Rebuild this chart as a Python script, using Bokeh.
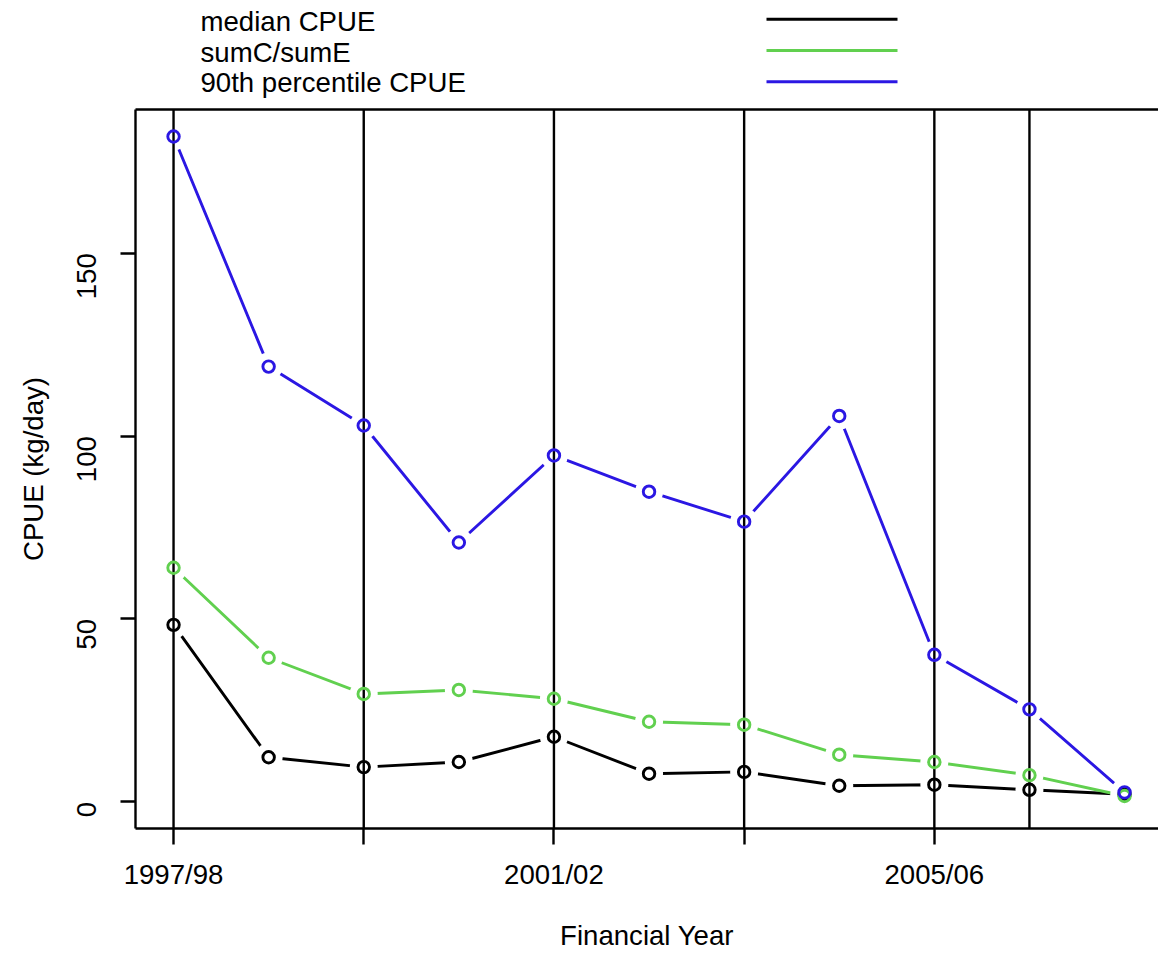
import math
from bokeh.plotting import figure
from bokeh.models import Range1d, FixedTicker, LinearAxis, Title
from bokeh.layouts import column
from bokeh.embed import file_html
from bokeh.resources import INLINE
from bokeh.core.properties import value

# ---------------- data ----------------
years = ["1997/98", "1998/99", "1999/00", "2000/01", "2001/02", "2002/03",
         "2003/04", "2004/05", "2005/06", "2006/07", "2007/08"]
median_cpue = [48.4, 12.2, 9.5, 10.9, 17.8, 7.7, 8.2, 4.4, 4.7, 3.3, 2.1]
sumc_sume = [64.0, 39.4, 29.5, 30.6, 28.2, 21.9, 21.1, 12.9, 10.9, 7.3, 1.6]
p90_cpue = [181.9, 119.0, 102.9, 70.9, 94.7, 84.8, 76.6, 105.5, 40.2, 25.3, 2.6]
series_names = ["median CPUE", "sumC/sumE", "90th percentile CPUE"]
series_values = [median_cpue, sumc_sume, p90_cpue]
series_colors = ["#000000", "#61D04F", "#2B17E3"]
tick_years = ["1997/98", "1999/00", "2001/02", "2003/04", "2005/06"]
label_years = ["1997/98", "2001/02", "2005/06"]
vline_years = ["1997/98", "1999/00", "2001/02", "2003/04", "2005/06", "2006/07"]
y_ticks = [0, 50, 100, 150]
x_title = "Financial Year"
y_title = "CPUE (kg/day)"

# ---------------- style ----------------
FONT = "Liberation Sans"
FS = "27.6px"
LW = 2.4
SLW = 2.9
X_LO, X_HI = -0.4, 10.357
Y_LO, Y_HI = -7.28, 189.28
W = 1158
LEFT = 135
LEG_H = 103
MAIN_H = 954 - LEG_H

xs = list(range(len(years)))

# ---------------- legend strip ----------------
leg = figure(width=W, height=LEG_H, x_range=Range1d(LEFT, W), y_range=Range1d(LEG_H, 0),
             output_backend="svg", toolbar_location=None,
             x_axis_location=None, y_axis_location=None,
             min_border_left=LEFT, min_border_right=0, min_border_top=0, min_border_bottom=0)
leg.outline_line_color = None
leg.grid.visible = False
leg_line_y = [18.7, 50.0, 81.3]
leg_text_y = [21.0, 51.8, 82.0]
leg.segment(x0=[766] * 3, y0=leg_line_y, x1=[897] * 3, y1=leg_line_y,
            line_color=series_colors, line_width=SLW)
leg.text(x=[200] * 3, y=leg_text_y, text=series_names, text_font=value(FONT),
         text_font_size=FS, text_baseline="middle", text_align="left", text_color="black")

# ---------------- main plot ----------------
p = figure(width=W, height=MAIN_H, x_range=Range1d(X_LO, X_HI), y_range=Range1d(Y_LO, Y_HI),
           output_backend="svg", toolbar_location=None,
           x_axis_location=None, y_axis_location=None,
           min_border_left=LEFT, min_border_right=0, min_border_top=6, min_border_bottom=126)
p.outline_line_color = None
p.grid.visible = False

for vals, col in zip(series_values, series_colors):
    p.line(xs, vals, line_color=col, line_width=SLW)
for vals in series_values:
    p.scatter(xs, vals, marker="circle", size=28, fill_color="white", line_color=None)
vx = [years.index(y) for y in vline_years]
p.segment(x0=vx, y0=[Y_LO - 20] * len(vx), x1=vx, y1=[Y_HI + 20] * len(vx),
          line_color="black", line_width=LW)
for vals, col in zip(series_values, series_colors):
    p.scatter(xs, vals, marker="circle", size=11.5, fill_color=None,
              line_color=col, line_width=SLW)

def style_axis(ax):
    ax.axis_line_color = "black"
    ax.axis_line_width = LW
    ax.major_tick_line_color = "black"
    ax.major_tick_line_width = LW
    ax.major_tick_in = 0
    ax.minor_tick_line_color = None
    ax.major_label_text_font = FONT
    ax.major_label_text_font_size = FS
    ax.major_label_text_color = "black"
    ax.axis_label_text_font = FONT
    ax.axis_label_text_font_size = FS
    ax.axis_label_text_font_style = "normal"
    ax.axis_label_text_color = "black"

xt = [years.index(y) for y in tick_years]
xaxis = LinearAxis(ticker=FixedTicker(ticks=xt),
                   major_label_overrides={years.index(y): (y if y in label_years else "")
                                          for y in tick_years})
style_axis(xaxis)
xaxis.major_tick_out = 16
xaxis.major_label_standoff = 14
xaxis.axis_label = x_title
xaxis.axis_label_standoff = 27
p.add_layout(xaxis, "below")

yaxis = LinearAxis(ticker=FixedTicker(ticks=y_ticks))
style_axis(yaxis)
yaxis.major_tick_out = 15
yaxis.major_label_orientation = math.pi / 2
yaxis.major_label_standoff = 34
p.add_layout(yaxis, "left")

ytitle = Title(text=y_title, align="center", text_font=FONT, text_font_size=FS,
               text_font_style="normal", text_color="black", standoff=31)
p.add_layout(ytitle, "left")

top = LinearAxis(ticker=FixedTicker(ticks=[]))
style_axis(top)
top.major_tick_out = 0
top.major_label_standoff = 0
p.add_layout(top, "above")

layout = column(leg, p)
open("out.html", "w").write(file_html(layout, INLINE))
